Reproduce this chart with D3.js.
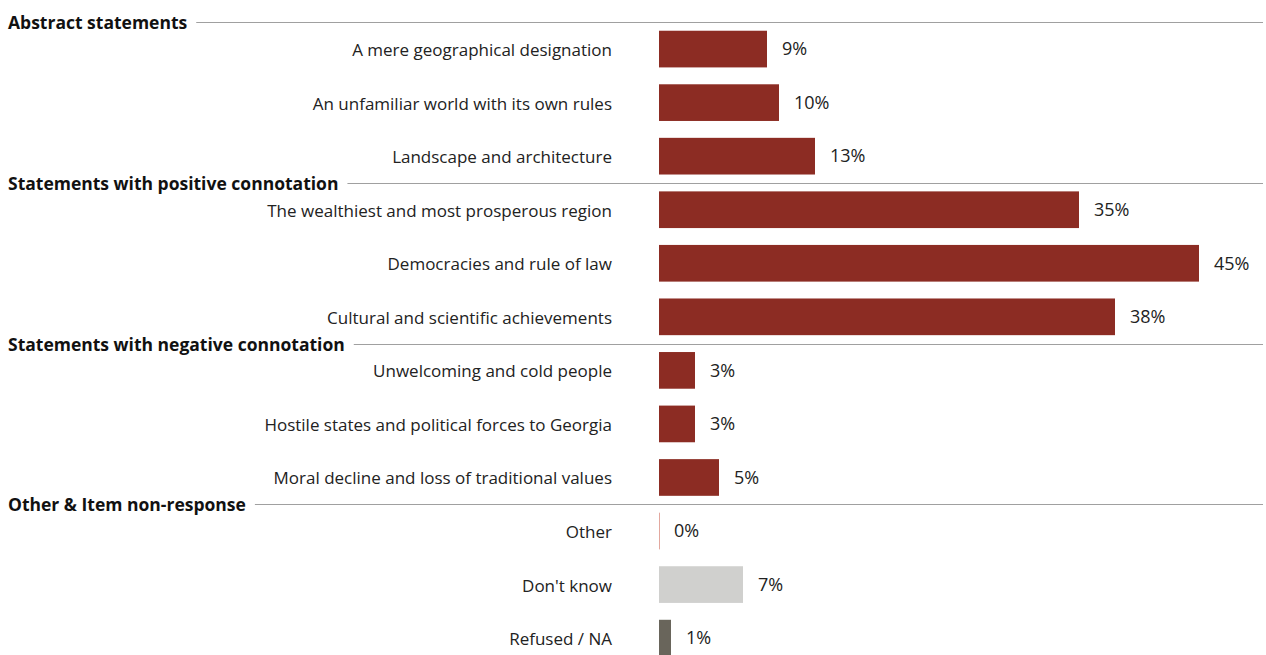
<!DOCTYPE html>
<html><head><meta charset="utf-8">
<script src="https://cdn.jsdelivr.net/npm/d3@7"></script>
<style>body{margin:0;background:#fff}svg{display:block}</style>
</head><body>
<svg id="c" width="1266" height="655"></svg>
<script>
const groups = ["Abstract statements","Statements with positive connotation","Statements with negative connotation","Other & Item non-response"];
const categories = [
 "A mere geographical designation","An unfamiliar world with its own rules","Landscape and architecture",
 "The wealthiest and most prosperous region","Democracies and rule of law","Cultural and scientific achievements",
 "Unwelcoming and cold people","Hostile states and political forces to Georgia","Moral decline and loss of traditional values",
 "Other","Don't know","Refused / NA"];
const categoryGroup = [0,0,0,1,1,1,2,2,2,3,3,3];
const values = [9,10,13,35,45,38,3,3,5,0,7,1];
const barColors = ["#8c2c23","#8c2c23","#8c2c23","#8c2c23","#8c2c23","#8c2c23","#8c2c23","#8c2c23","#8c2c23","#e3a89f","#d0d0ce","#69655b"];

const svg = d3.select("#c");
const font = "'Open Sans', sans-serif";
const x = d3.scaleLinear().domain([0,45]).range([659,1199]);
const y = d3.scaleBand().domain(categories).range([22.3, 22.3+12*53.55]).paddingInner(0.315).paddingOuter(0.1575);

// group headers
groups.forEach((g,gi)=>{
  const first = categories[categoryGroup.indexOf(gi)];
  const ly = Math.round(y(first) - y.step()*y.paddingOuter()) + 0.5;
  const t = svg.append("text").attr("x",8).attr("y",ly).attr("dy","0.35em")
    .attr("font-family",font).attr("font-weight",700).attr("font-size",17.5).attr("fill","#111").text(g);
  const w = t.node().getComputedTextLength();
  svg.append("line").attr("x1",8+w+9).attr("x2",1263).attr("y1",ly).attr("y2",ly)
    .attr("stroke","#a0a0a0").attr("stroke-width",1);
});

// category labels
svg.selectAll("text.cat").data(categories).enter().append("text").attr("class","cat")
  .attr("x",612).attr("y",d=>y(d)+y.bandwidth()/2+1).attr("dy","0.35em").attr("text-anchor","end")
  .attr("font-family",font).attr("font-size",17).attr("fill","#222").text(d=>d);

// bars
svg.selectAll("rect.bar").data(values).enter().append("rect").attr("class","bar")
  .attr("x",x(0)).attr("y",(d,i)=>y(categories[i]))
  .attr("width",d=>Math.max(x(d)-x(0),1)).attr("height",y.bandwidth())
  .attr("fill",(d,i)=>barColors[i]);

// value labels
svg.selectAll("text.val").data(values).enter().append("text").attr("class","val")
  .attr("x",d=>x(d)+15).attr("y",(d,i)=>y(categories[i])+y.bandwidth()/2).attr("dy","0.35em")
  .attr("font-family",font).attr("font-size",18).attr("fill","#222").text(d=>d+"%");
</script>
</body></html>
